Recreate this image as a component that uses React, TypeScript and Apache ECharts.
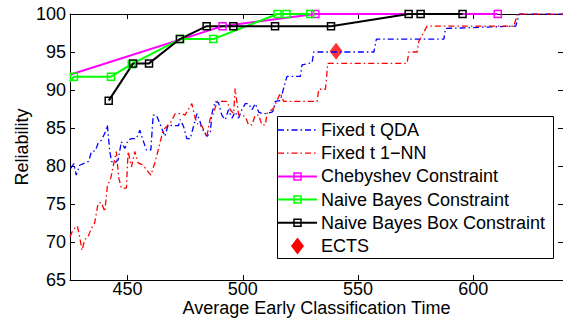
import React, { useEffect, useRef } from "react";
import * as echarts from "echarts";

const FONT = "'Liberation Sans', Arial, Helvetica, sans-serif";

const seriesNames = [
  "Fixed t QDA",
  "Fixed t 1\u2212NN",
  "Chebyshev Constraint",
  "Naive Bayes Constraint",
  "Naive Bayes Box Constraint",
  "ECTS",
];
const seriesColors = ["#0000ff", "#ff0000", "#ff00ff", "#00ff00", "#000000", "#ff0000"];

const xTicks = [450, 500, 550, 600];
const yTicks = [65, 70, 75, 80, 85, 90, 95, 100];

const qdaPoints: [number, number][] = [
  [425.3, 79.7], [426.7, 80.3], [427.7, 78.8], [429.2, 80.1], [431.4, 80.4], [433.1, 80.6],
  [434.3, 81.9], [436, 82], [437.2, 83], [438.6, 83.4], [440.1, 84.3], [441.2, 85.4],
  [442.2, 82.1], [443, 80.6], [444.4, 80.4], [445.9, 80.8], [447.3, 83.2], [448.8, 82.3],
  [450.2, 83.4], [451.7, 83.6], [453.8, 83.6], [455.3, 84.7], [456.7, 83.4], [458.2, 82.1],
  [460.1, 82.1], [461.1, 86.7], [462.5, 86.7], [464, 85.6], [466.2, 83.9], [467.6, 85.4],
  [469.9, 85.3], [472.1, 85.3], [472.8, 86.1], [474.3, 85.2], [475.7, 83.6], [477.2, 83.6],
  [478.6, 85.2], [480.1, 86.9], [481.5, 85.8], [482.2, 85], [484.4, 83.9], [485.9, 84.4],
  [486.6, 86.9], [488, 88.5], [489.5, 88.3], [490.9, 86.7], [492.4, 86.1], [493.8, 87.4],
  [495.3, 86.3], [496.7, 87.1], [498.2, 86.3], [499.6, 87.4], [501.1, 88.2], [502.5, 88.2],
  [504, 87.4], [505.4, 88.2], [506.9, 87.1], [508.3, 86.9], [510.5, 86.9], [512.7, 87.1],
  [513.4, 87.4], [514.1, 88.5], [516.3, 88.6], [518.5, 91.1], [519.2, 91.8], [525, 91.8],
  [525.7, 93.3], [530.1, 93.6], [530.8, 95.0], [556.9, 95.0], [558, 96.7], [587.3, 96.7],
  [588, 98.1], [618.5, 98.4], [620, 100], [640, 100],
];

const nnPoints: [number, number][] = [
  [425, 70.7], [426.3, 71.6], [428.2, 72.1], [429.2, 70.7], [430.2, 68.9], [431.4, 70.3],
  [432.8, 70.7], [434.3, 71.8], [435.7, 72.5], [437.2, 75.1], [438.6, 75.2], [440.1, 74.0],
  [441.2, 77.3], [442.7, 78.4], [443.7, 79.9], [445.1, 81.9], [446.2, 78.4], [447.3, 77.1],
  [449.5, 77.1], [450.2, 81.9], [451.7, 79.9], [453.1, 81.9], [454.6, 80.4], [456.7, 80.1],
  [458.2, 79.5], [460.1, 78.8], [461.8, 80.4], [463.3, 82.1], [465.4, 84.7], [467.6, 85.4],
  [468.5, 85.6], [470.7, 86.9], [473.5, 86.9], [474.9, 86.7], [477.9, 88.2], [479.3, 86.3],
  [480.8, 85.3], [482.2, 85.3], [484.4, 83.9], [485.9, 86.3], [487.3, 86.9], [488.8, 88.5],
  [493.1, 88.5], [494.6, 87.4], [496, 86.9], [496.7, 90.2], [498.2, 86.7], [499.6, 86.7],
  [501.1, 86.5], [502.5, 85.4], [504, 85.4], [505.4, 86.7], [506.9, 86.7], [508.3, 85.4],
  [509.8, 85.4], [510.5, 86.9], [513.4, 87.6], [516.3, 89.6], [517.7, 88.5], [532.2, 88.5],
  [533, 90.1], [535.9, 90.1], [536.9, 93.5], [571.3, 93.5], [572.1, 95.0], [575.7, 95.0],
  [576.4, 96.4], [580, 98.4], [617.7, 98.4], [619.2, 100], [640, 100],
];

// first entry of these two is where the line enters the plot (no marker)
const chebyshevPoints: [number, number][] = [[425, 92.0], [491.2, 98.4], [531.5, 100], [610.7, 100]];
const naiveBayesPoints: [number, number][] = [
  [425, 91.1], [426.7, 91.75], [442.8, 91.75], [451.8, 93.4], [472.8, 96.7], [487.2, 96.7],
  [515.1, 100], [519, 100], [529.3, 100],
];
const boxPoints: [number, number][] = [
  [441.8, 88.6], [452.4, 93.5], [459.3, 93.5], [472.7, 96.7], [484.3, 98.4], [495.9, 98.4],
  [514, 98.4], [538.3, 98.4], [572, 100], [577.2, 100], [595.4, 100],
];
const ectsPoints: [number, number][] = [[540.5, 95.1]];

const DASHDOT = [6, 3, 1.5, 3];

function markerSeries(name: string, pts: [number, number][], color: string, firstHidden: boolean) {
  return {
    name,
    type: "line",
    data: pts.map((p, i) =>
      firstHidden && i === 0 ? { value: p, symbol: "none" } : { value: p }
    ),
    symbol: "rect",
    symbolSize: 7,
    showAllSymbol: true,
    clip: true,
    lineStyle: { color, width: 2 },
    itemStyle: { color: "rgba(255,255,255,0)", borderColor: color, borderWidth: 1.5 },
    silent: true,
  };
}

function buildLegend() {
  const bx = 277, by = 116, bw = 276, bh = 142;
  const rowY0 = 130, rowStep = 23.2;
  const lx1 = 278, lx2 = 317, mx = 297.5, tx = 321;
  const children: any[] = [
    {
      type: "rect",
      shape: { x: bx + 0.5, y: by + 0.5, width: bw, height: bh },
      style: { fill: "#fff", stroke: "#000", lineWidth: 1 },
    },
  ];
  seriesNames.forEach((name, i) => {
    const y = rowY0 + i * rowStep;
    const c = seriesColors[i];
    if (i < 2) {
      children.push({
        type: "line",
        shape: { x1: lx1, y1: y, x2: lx2, y2: y },
        style: { stroke: c, lineWidth: 1.3, lineDash: DASHDOT },
      });
    } else if (i < 5) {
      children.push({
        type: "line",
        shape: { x1: lx1, y1: y, x2: lx2, y2: y },
        style: { stroke: c, lineWidth: 2 },
      });
      children.push({
        type: "rect",
        shape: { x: mx - 3.5, y: y - 3.5, width: 7, height: 7 },
        style: { fill: "rgba(255,255,255,0)", stroke: c, lineWidth: 1.5 },
      });
    } else {
      children.push({
        type: "polygon",
        shape: { points: [[mx, y - 8.5], [mx + 6.5, y], [mx, y + 8.5], [mx - 6.5, y]] },
        style: { fill: c },
      });
    }
    children.push({
      type: "text",
      x: tx,
      y,
      style: {
        text: name,
        fill: "#000",
        font: `18px ${FONT}`,
        verticalAlign: "middle",
        align: "left",
      },
    });
  });
  return [{ type: "group", children, z: 100 }];
}

export default function App() {
  const ref = useRef<HTMLDivElement>(null);
  useEffect(() => {
    if (!ref.current) return;
    const chart = echarts.init(ref.current, undefined, { renderer: "svg" });
    const axisCommon = {
      type: "value",
      axisLine: { show: true, onZero: false, lineStyle: { color: "#000", width: 1 } },
      axisTick: { show: true, inside: true, length: 5, lineStyle: { color: "#000" } },
      splitLine: { show: false },
    };
    chart.setOption({
      animation: false,
      textStyle: { fontFamily: FONT },
      grid: { left: 70, right: 0, top: 14, bottom: 43, containLabel: false, outerBoundsMode: "none" },
      xAxis: [
        {
          ...axisCommon,
          position: "bottom",
          min: 425,
          max: 639,
          axisTick: { ...axisCommon.axisTick, customValues: xTicks },
          axisLabel: { customValues: xTicks, fontSize: 18, color: "#000", margin: 0, fontFamily: FONT },
          name: "Average Early Classification Time",
          nameLocation: "middle",
          nameGap: 19,
          nameMoveOverlap: false,
          nameTextStyle: { fontSize: 18, color: "#000", fontFamily: FONT },
        },
        {
          ...axisCommon,
          position: "top",
          min: 425,
          max: 639,
          axisTick: { ...axisCommon.axisTick, customValues: xTicks },
          axisLabel: { show: false },
        },
      ],
      yAxis: [
        {
          ...axisCommon,
          position: "left",
          min: 65,
          max: 100,
          interval: 5,
          axisTick: { ...axisCommon.axisTick, customValues: yTicks },
          axisLabel: { customValues: yTicks, fontSize: 18, color: "#000", margin: 4, fontFamily: FONT },
          name: "Reliability",
          nameLocation: "middle",
          nameGap: 39,
          nameMoveOverlap: false,
          nameTextStyle: { fontSize: 18, color: "#000", fontFamily: FONT },
        },
        {
          ...axisCommon,
          position: "right",
          min: 65,
          max: 100,
          interval: 5,
          axisLabel: { show: false },
        },
      ],
      series: [
        {
          name: seriesNames[0],
          type: "line",
          data: qdaPoints,
          symbol: "none",
          clip: true,
          lineStyle: { color: seriesColors[0], width: 1.3, type: DASHDOT },
          silent: true,
        },
        {
          name: seriesNames[1],
          type: "line",
          data: nnPoints,
          symbol: "none",
          clip: true,
          lineStyle: { color: seriesColors[1], width: 1.3, type: DASHDOT },
          silent: true,
        },
        markerSeries(seriesNames[2], chebyshevPoints, seriesColors[2], true),
        markerSeries(seriesNames[3], naiveBayesPoints, seriesColors[3], true),
        markerSeries(seriesNames[4], boxPoints, seriesColors[4], false),
        {
          name: seriesNames[5],
          type: "scatter",
          data: ectsPoints,
          symbol: "diamond",
          symbolSize: [13, 17],
          itemStyle: { color: seriesColors[5] },
          silent: true,
        },
      ],
      graphic: buildLegend(),
    });
    return () => chart.dispose();
  }, []);
  return (
    <div
      ref={ref}
      style={{ position: "fixed", left: 0, top: 0, width: 563, height: 323, background: "#fff" }}
    />
  );
}
